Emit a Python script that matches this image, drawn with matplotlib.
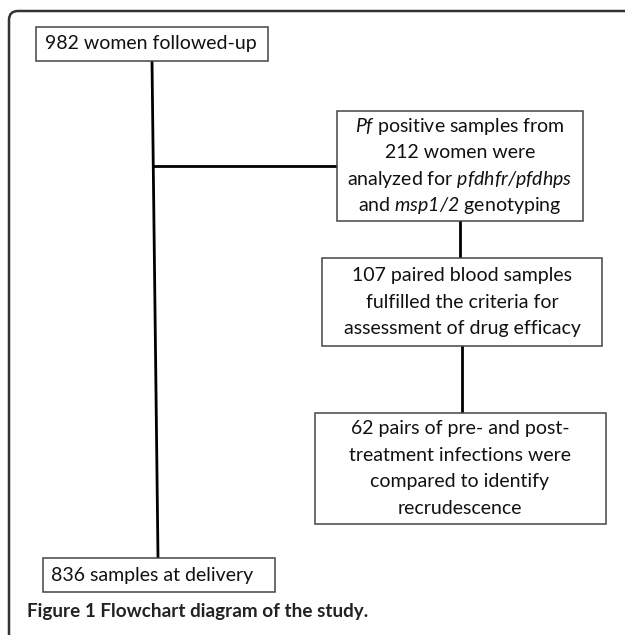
import matplotlib
matplotlib.use('Agg')
import matplotlib.pyplot as plt
import matplotlib.patches as patches
from matplotlib.path import Path

# Тексты блоков схемы
top_label = '982 women followed-up'
bottom_label = '836 samples at delivery'
box2_lines = [r'$Pf$ positive samples from',
              '212 women were',
              r'analyzed for $pfdhfr/pfdhps$',
              r'and $msp1/2$ genotyping']
box3_lines = ['107 paired blood samples',
              'fulfilled the criteria for',
              'assessment of drug efficacy']
box4_lines = ['62 pairs of pre- and post-',
              'treatment infections were',
              'compared to identify',
              'recrudescence']
caption = 'Figure 1 Flowchart diagram of the study.'

plt.rcParams['font.family'] = 'Lato'
# всё, что в $...$, — курсивом (названия генов)
plt.rcParams['mathtext.fontset'] = 'custom'
plt.rcParams['mathtext.rm'] = 'Lato:italic'
plt.rcParams['mathtext.it'] = 'Lato:italic'

W, H = 625, 635
fig = plt.figure(figsize=(W / 100, H / 100), dpi=100)
ax = fig.add_axes([0, 0, 1, 1])
ax.set_xlim(0, W)
ax.set_ylim(H, 0)
ax.axis('off')

FS = 14
PITCH = 26.5
box_ec = '#444444'


def box(x0, y0, x1, y1):
    ax.add_patch(patches.Rectangle((x0, y0), x1 - x0, y1 - y0,
                                   facecolor='white', edgecolor=box_ec, lw=1.1, zorder=2))


def centered_lines(lines, xc, y0, y1):
    n = len(lines)
    yc = 0.5 * (y0 + y1)
    for i, s in enumerate(lines):
        y = yc + (i - (n - 1) / 2) * PITCH
        ax.text(xc, y, s, ha='center', va='center', fontsize=FS, color='#111111', zorder=3)


# Внешняя рамка (скруглённый верхний левый угол)
r = 9
verts = [(W + 5, 11), (9 + r, 11), (9, 11), (9, 11 + r), (9, H + 5)]
codes = [Path.MOVETO, Path.LINETO, Path.CURVE3, Path.CURVE3, Path.LINETO]
ax.add_patch(patches.PathPatch(Path(verts, codes), facecolor='none',
                               edgecolor='#333333', lw=1.8))

# Соединительные линии
ax.plot([152, 158], [61, 558], color='black', lw=2, zorder=1)
ax.plot([153, 337], [166, 166], color='black', lw=2, zorder=1)
ax.plot([460, 460], [221, 258], color='black', lw=2, zorder=1)
ax.plot([462, 462], [346, 413], color='black', lw=2, zorder=1)

# Блоки
box(36, 27, 268, 61)
ax.text(45, 44, top_label, ha='left', va='center', fontsize=FS, color='#111111', zorder=3)

box(337, 111, 583, 221)
centered_lines(box2_lines, 460, 111, 221)

box(322, 258, 602, 346)
centered_lines(box3_lines, 462, 258, 346)

box(315, 413, 606, 524)
centered_lines(box4_lines, 460, 413, 524)

box(43, 558, 275, 592)
ax.text(51, 575, bottom_label, ha='left', va='center', fontsize=FS, color='#111111', zorder=3)

# Подпись рисунка
ax.text(27, 611, caption, ha='left', va='center', fontsize=13.6, fontweight='bold',
        color='#222222')

fig.savefig('out.png', dpi=100)
